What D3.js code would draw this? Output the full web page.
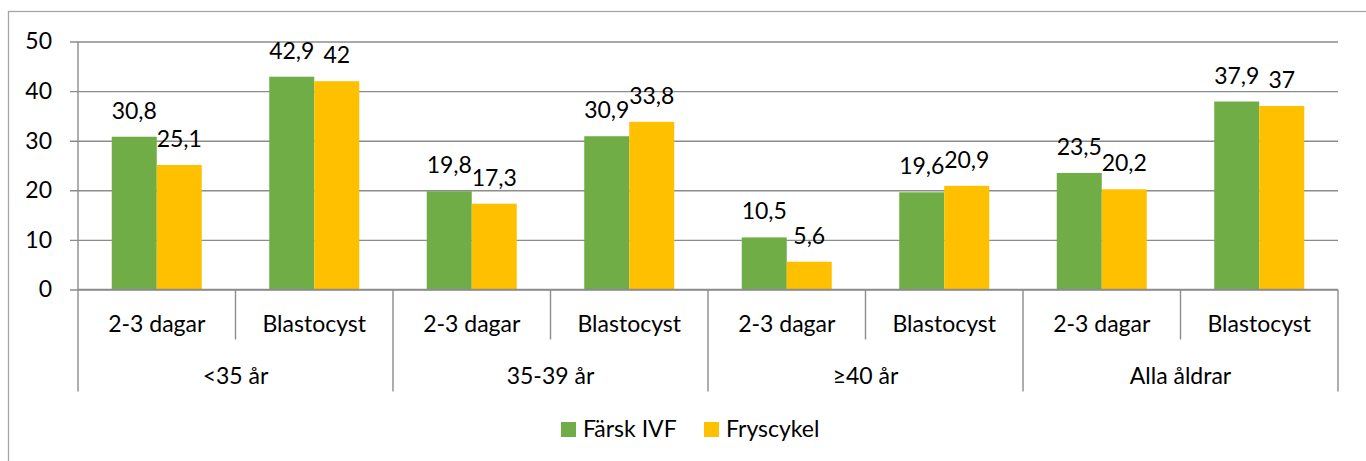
<!DOCTYPE html>
<html>
<head>
<meta charset="utf-8">
<script src="https://cdn.jsdelivr.net/npm/d3@7"></script>
<style>
  body { margin: 0; background: #fff; }
  text { font-family: Lato, sans-serif; fill: #000; }
</style>
</head>
<body>
<div class="chart"></div>
<script>
// data
const groups = ["<35 år", "35-39 år", "≥40 år", "Alla åldrar"]
const subcats = ["2-3 dagar", "Blastocyst"]
const series = ["Färsk IVF", "Fryscykel"]
const colors = ["#70AD47", "#FFC000"]
const farsk = [30.8, 42.9, 19.8, 30.9, 10.5, 19.6, 23.5, 37.9]
const frys = [25.1, 42, 17.3, 33.8, 5.6, 20.9, 20.2, 37]
const yTicks = [0, 10, 20, 30, 40, 50]

var W = 1366, H = 461
var fs = 23
var margin = {top: 41.5, left: 78, right: 28, bottom: 171.5}
var width = W - margin.left - margin.right,
    height = H - margin.top - margin.bottom

const rows = []
groups.forEach((g, gi) => subcats.forEach((s, si) => {
  const i = gi * 2 + si
  rows.push({key: g + "|" + s, group: g, sub: s, vals: [farsk[i], frys[i]]})
}))

const root = d3.select(".chart").append("svg")
    .attr("width", W)
    .attr("height", H)

// outer chart border
root.append("rect")
    .attr("x", 8.5).attr("y", 11.5)
    .attr("width", 1400).attr("height", 500)
    .attr("fill", "none")
    .attr("stroke", "#a6a6a6")
    .attr("stroke-width", 1.3)

const svg = root.append("g")
    .attr("transform", "translate(" + margin.left + "," + margin.top + ")")

const xScale = d3.scaleBand()
    .domain(rows.map(d => d.key))
    .range([0, width])

const x1 = d3.scaleBand()
    .domain(series)
    .range([0, xScale.bandwidth()])
    .paddingOuter(0.75)

const gScale = d3.scaleBand()
    .domain(groups)
    .range([0, width])

const yScale = d3.scaleLinear()
    .domain([0, 50])
    .range([height, 0])

// gridlines + y labels
const yAxis = d3.axisLeft(yScale)
    .tickValues(yTicks)
    .tickSize(-(width + 8))
    .tickPadding(18)

svg.append("g")
    .attr("class", "y-axis")
    .attr("transform", "translate(-8,0)")
    .call(yAxis)
    .call(g => g.select(".domain").remove())
    .call(g => g.selectAll(".tick line").attr("stroke", "#8c8c8c").attr("stroke-width", 1.4))
    .call(g => g.selectAll(".tick text").attr("font-size", fs).attr("font-family", "Lato").attr("fill", "#000"))

svg.append("line")
    .attr("x1", 0).attr("x2", 0)
    .attr("y1", 0).attr("y2", height)
    .attr("stroke", "#8c8c8c").attr("stroke-width", 1.4)

// bars
const grp = svg.selectAll(".cat").data(rows).enter().append("g")
    .attr("class", "cat")
    .attr("transform", d => "translate(" + xScale(d.key) + ",0)")

grp.selectAll("rect")
    .data(d => d.vals.map((v, i) => ({s: series[i], v: v, i: i})))
    .enter().append("rect")
    .attr("x", d => x1(d.s))
    .attr("y", d => yScale(d.v))
    .attr("width", x1.bandwidth())
    .attr("height", d => height - yScale(d.v))
    .attr("fill", d => colors[d.i])

grp.selectAll(".lbl")
    .data(d => d.vals.map((v, i) => ({s: series[i], v: v, i: i})))
    .enter().append("text")
    .attr("class", "lbl")
    .attr("x", d => x1(d.s) + x1.bandwidth() / 2)
    .attr("y", d => yScale(d.v) - 18)
    .attr("text-anchor", "middle")
    .attr("font-size", fs)
    .text(d => String(d.v).replace(".", ","))

// category axis
const ax = svg.append("g").attr("transform", "translate(0," + height + ")")
ax.append("line")
    .attr("x1", 0).attr("x2", width)
    .attr("stroke", "#8c8c8c").attr("stroke-width", 1.4)

ax.selectAll(".subtick")
    .data(rows.map(d => xScale(d.key)).concat([width]))
    .enter().append("line")
    .attr("x1", d => d).attr("x2", d => d)
    .attr("y1", 0)
    .attr("y2", (d, i) => i % 2 == 0 ? 102 : 50)
    .attr("stroke", "#8c8c8c").attr("stroke-width", 1.4)

ax.selectAll(".sublbl")
    .data(rows).enter().append("text")
    .attr("x", d => xScale(d.key) + xScale.bandwidth() / 2)
    .attr("y", 42)
    .attr("text-anchor", "middle")
    .attr("font-size", fs)
    .text(d => d.sub)

ax.selectAll(".grplbl")
    .data(groups).enter().append("text")
    .attr("x", d => gScale(d) + gScale.bandwidth() / 2)
    .attr("y", 94)
    .attr("text-anchor", "middle")
    .attr("font-size", fs)
    .text(d => d)

// legend
const legX = [561, 704]
const leg = root.selectAll(".leg").data(series).enter().append("g")
    .attr("transform", (d, i) => "translate(" + legX[i] + ",422)")
leg.append("rect")
    .attr("width", 15).attr("height", 15)
    .attr("fill", (d, i) => colors[i])
leg.append("text")
    .attr("x", 22).attr("y", 15)
    .attr("font-size", fs)
    .text(d => d)
</script>
</body>
</html>
